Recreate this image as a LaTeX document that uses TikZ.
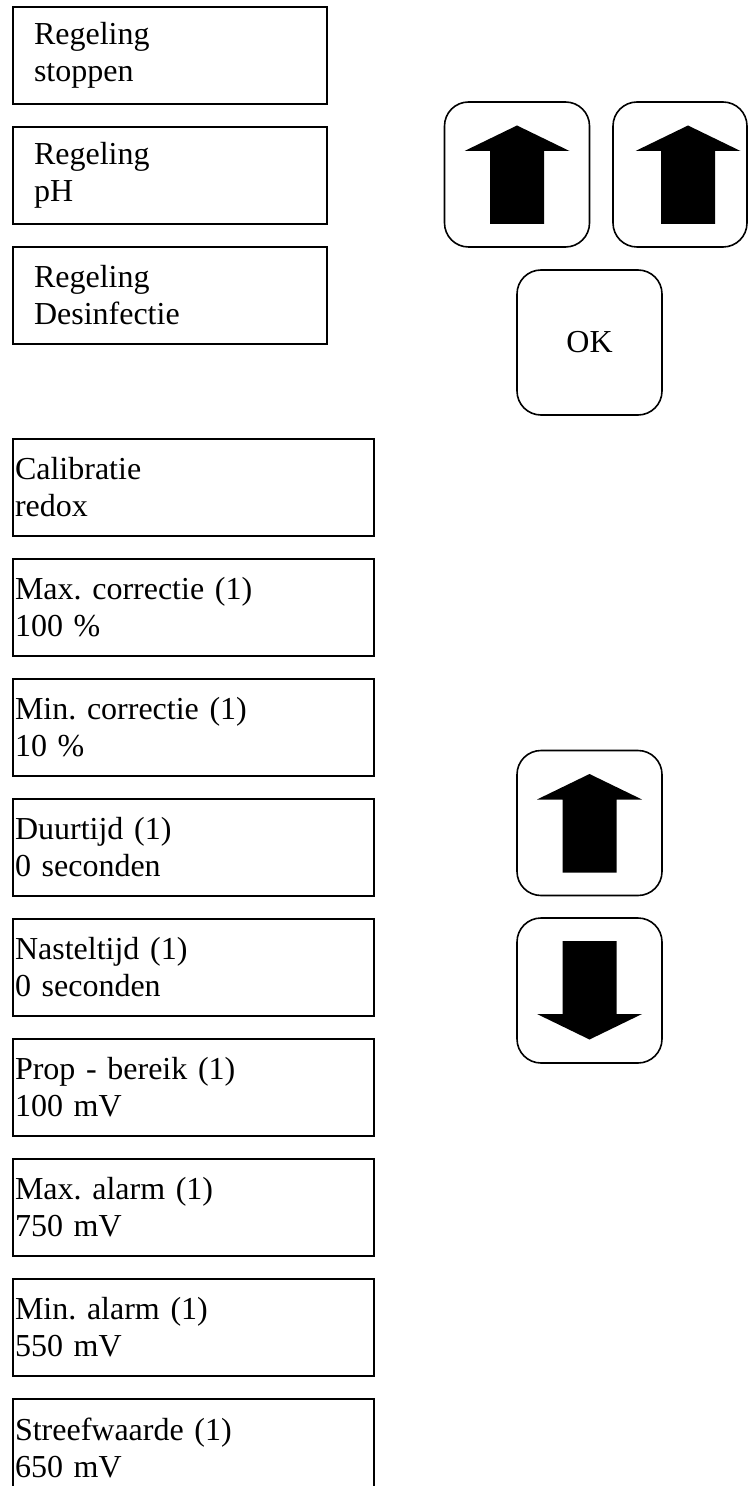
\documentclass[tikz,border=0pt]{standalone}
\usepackage{fontspec}
\setmainfont{Liberation Serif}
\frenchspacing
\tikzset{
  menu/.style={draw, line width=1pt, anchor=north west, align=left,
    minimum height=48.5pt, font=\fontsize{16}{18.5}\selectfont},
  topmenu/.style={menu, text width=136pt, inner xsep=10.5pt},
  lowmenu/.style={menu, text width=178.5pt, inner xsep=1pt},
  knop/.style={draw, line width=0.8pt, rounded corners=12pt,
    minimum width=72.5pt, minimum height=72.5pt, inner sep=0pt,
    font=\fontsize{16}{18.5}\selectfont}
}
\newcommand{\pijlop}[1]{\fill[shift={(#1)}] (0,-49) -- (52.5,-23.5) -- (27,-23.5) -- (27,49.5) -- (-27,49.5) -- (-27,-23.5) -- (-52.5,-23.5) -- cycle;}
\newcommand{\pijlneer}[1]{\fill[shift={(#1)}] (0,49) -- (52.5,23.5) -- (27,23.5) -- (27,-49.5) -- (-27,-49.5) -- (-27,23.5) -- (-52.5,23.5) -- cycle;}
\begin{document}
\begin{tikzpicture}[x=0.5pt,y=-0.5pt]
\useasboundingbox[clip] (0,0) rectangle (748,1486);

% menu regeling
\node[topmenu] (stop) at (12,6) {Regeling\\stoppen};
\node[topmenu] (ph) at (12,126) {Regeling\\pH};
\node[topmenu] (desinf) at (12,246) {Regeling\\Desinfectie};

% instellingen redox
\node[lowmenu] (cal) at (12,438) {Calibratie\\redox};
\node[lowmenu] (maxcor) at (12,558) {Max. correctie (1)\\100 \%};
\node[lowmenu] (mincor) at (12,678) {Min. correctie (1)\\10 \%};
\node[lowmenu] (duur) at (12,798) {Duurtijd (1)\\0 seconden};
\node[lowmenu] (nastel) at (12,918) {Nasteltijd (1)\\0 seconden};
\node[lowmenu] (prop) at (12,1038) {Prop - bereik (1)\\100 mV};
\node[lowmenu] (maxal) at (12,1158) {Max. alarm (1)\\750 mV};
\node[lowmenu] (minal) at (12,1278) {Min. alarm (1)\\550 mV};
\node[lowmenu] (streef) at (12,1398) {Streefwaarde (1)\\650 mV};

% knoppen
\node[knop] (op1) at (517,174.5) {};
\node[knop, minimum width=67pt] (op2) at (680,174.5) {};
\node[knop] (ok) at (589.5,342.5) {OK};
\node[knop] (op3) at (589.5,823) {};
\node[knop] (neer) at (589.5,990.5) {};

\pijlop{op1.center}
\pijlop{688,174.5}
\pijlop{op3.center}
\pijlneer{neer.center}
\end{tikzpicture}
\end{document}
